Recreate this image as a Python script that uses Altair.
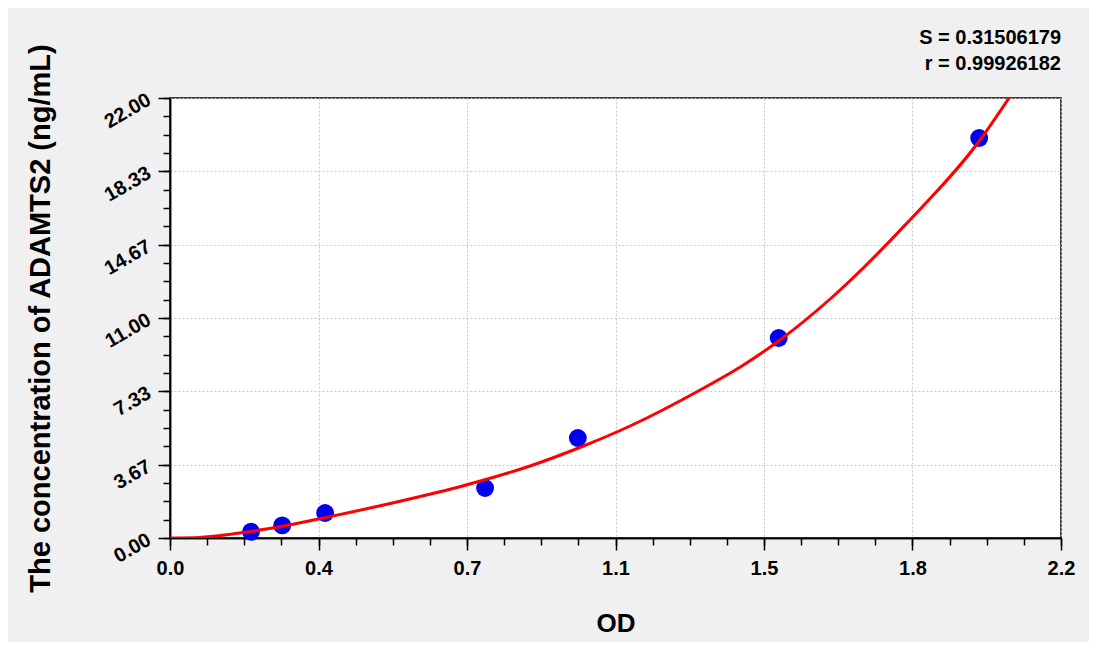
import altair as alt
import pandas as pd

# Standards
std_od = [0.200, 0.277, 0.383, 0.778, 1.007, 1.503, 1.998]
std_conc = [0.31, 0.63, 1.25, 2.5, 5.0, 10.0, 20.0]

# Fitted curve, points
curve_od = [0.0, 0.074, 0.2, 0.28, 0.395, 0.56, 0.731, 0.889, 1.021, 1.136, 1.309, 1.416, 1.506, 1.63, 1.819, 2.0, 2.074]
curve_conc = [0.0, 0.03, 0.33, 0.6, 1.07, 1.8, 2.65, 3.6, 4.6, 5.6, 7.4, 8.65, 9.9, 11.95, 15.73, 19.9, 22.07]

x_major = [0.0, 2.2 / 6, 2.2 * 2 / 6, 1.1, 2.2 * 4 / 6, 2.2 * 5 / 6, 2.2]
y_major = [0.0, 22 / 6, 22 * 2 / 6, 11.0, 22 * 4 / 6, 22 * 5 / 6, 22.0]
x_minor = [2.2 * i / 24 for i in range(25)]
y_minor = [22.0 * i / 24 for i in range(25)]

stat_s = "S = 0.31506179"
stat_r = "r = 0.99926182"

pts = pd.DataFrame({"od": std_od, "conc": std_conc})
crv = pd.DataFrame({"od": curve_od, "conc": curve_conc})

FONT = "Liberation Sans"
xscale = alt.Scale(domain=[0, 2.2], nice=False, zero=False)
yscale = alt.Scale(domain=[0, 22], nice=False, zero=False)

major_x = alt.Axis(
    values=x_major, format=".1f", orient="bottom", labelFlush=False,
    labelFont=FONT, labelFontSize=20, labelFontWeight="bold", labelColor="black",
    labelPadding=8, tickSize=12, tickColor="black", tickWidth=1.5,
    domainColor="black", domainWidth=1.5,
    grid=True, gridColor="#c8c8c8", gridDash=[2, 2], gridWidth=1,
    title="OD", titleFont=FONT, titleFontSize=26, titleFontWeight="bold", titleColor="black",
    titleBaseline="alphabetic", titleY=93,
)
major_y = alt.Axis(
    values=y_major, format=".2f", orient="left", labelFlush=False,
    labelFont=FONT, labelFontSize=20, labelFontWeight="bold", labelColor="black",
    labelAngle=330, labelAlign="right", labelBaseline="middle", labelPadding=9,
    tickSize=12, tickColor="black", tickWidth=1.5,
    domainColor="black", domainWidth=1.5,
    grid=True, gridColor="#c8c8c8", gridDash=[2, 2], gridWidth=1,
    title="The concentration of ADAMTS2 (ng/mL)", titleFont=FONT, titleFontSize=29,
    titleFontWeight="bold", titleColor="black", titleAngle=270,
    titleBaseline="alphabetic", titleAlign="center", titleX=-121, titleY=220,
)
minor_x = alt.Axis(values=x_minor, orient="bottom", labels=False, grid=False,
                   tickSize=7, tickColor="black", tickWidth=1.5,
                   domainColor="black", domainWidth=1.5, title="")
minor_y = alt.Axis(values=y_minor, orient="left", labels=False, grid=False,
                   tickSize=7, tickColor="black", tickWidth=1.5,
                   domainColor="black", domainWidth=1.5, title="")

points = alt.Chart(pts).mark_circle(color="#0000f0", size=320, opacity=1).encode(
    x=alt.X("od:Q", scale=xscale, axis=minor_x),
    y=alt.Y("conc:Q", scale=yscale, axis=minor_y),
)
line = alt.Chart(crv).mark_line(color="#ff0000", strokeWidth=3, interpolate="monotone", clip=True).encode(
    x=alt.X("od:Q", scale=xscale, axis=major_x),
    y=alt.Y("conc:Q", scale=yscale, axis=major_y),
)

chart = alt.layer(points, line).resolve_axis(x="independent", y="independent").properties(
    width=891, height=440,
    padding={"left": 162, "top": 90, "right": 28, "bottom": 104},
    autosize=alt.AutoSizeParams(type="none"),
    background="#f0f0f0",
    title=alt.TitleParams(
        text=stat_s, subtitle=stat_r, anchor="end", frame="group",
        font=FONT, fontSize=20, fontWeight="bold", color="black",
        subtitleFont=FONT, subtitleFontSize=20, subtitleFontWeight="bold", subtitleColor="black",
        subtitlePadding=6, offset=-31,
    ),
).configure_view(fill="white", stroke="black", strokeWidth=1.5)

chart.save("out.html", embed_options={"renderer": "svg", "actions": False})
